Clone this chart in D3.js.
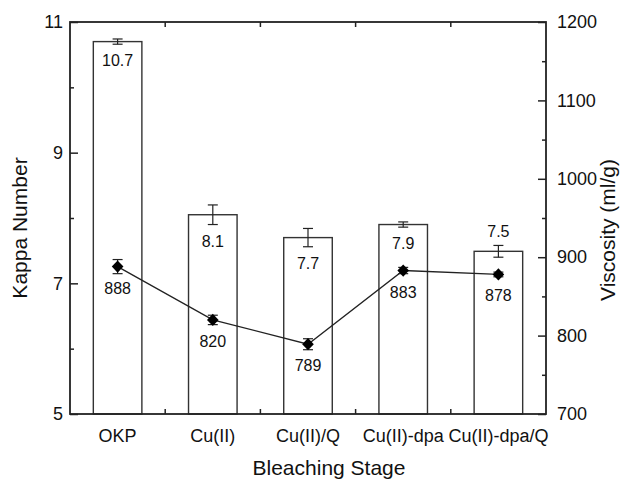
<!DOCTYPE html>
<html>
<head>
<meta charset="utf-8">
<script src="https://cdn.jsdelivr.net/npm/d3@7"></script>
<style>
  html, body { margin: 0; padding: 0; background: #fff; }
  svg { display: block; }
  text { font-family: "Liberation Sans", Arial, Helvetica, sans-serif; fill: #111; }
</style>
</head>
<body>
<svg id="chart" width="632" height="479"></svg>
<script>
// ---- data ----
const stages = ["OKP", "Cu(II)", "Cu(II)/Q", "Cu(II)-dpa", "Cu(II)-dpa/Q"];
const kappa = [10.7, 8.05, 7.7, 7.9, 7.49];
const kappaLabels = ["10.7", "8.1", "7.7", "7.9", "7.5"];
const kappaErr = [0.04, 0.15, 0.14, 0.04, 0.09];
const viscosity = [888, 820, 789, 883, 878];
const viscosityErr = [9, 6, 7, 4, 3];
const kappaTicks = [5, 7, 9, 11];
const kappaMinor = [6, 8, 10];
const viscTicks = [700, 800, 900, 1000, 1100, 1200];
const viscMinor = [750, 850, 950, 1050, 1150];

// ---- layout ----
const L = 70, R = 546, T = 22, B = 414;
const ink = "#222";
const svg = d3.select("#chart");
svg.append("rect").attr("width", 632).attr("height", 479).attr("fill", "#fff");

const x = d3.scaleBand().domain(stages).range([L, R]).padding(0);
const yK = d3.scaleLinear().domain([5, 11]).range([B, T]);
const yV = d3.scaleLinear().domain([700, 1200]).range([B, T]);
const barW = x.bandwidth() * 0.51;
const cx = d => x(d) + x.bandwidth() / 2;

// ---- bars ----
const g = svg.append("g");
stages.forEach((s, i) => {
  g.append("rect")
    .attr("x", cx(s) - barW / 2)
    .attr("y", yK(kappa[i]))
    .attr("width", barW)
    .attr("height", yK(5) - yK(kappa[i]))
    .attr("fill", "#fff")
    .attr("stroke", "#333")
    .attr("stroke-width", 1.4);
});

// error bars for bars
function errBar(xc, y1, y2, cap) {
  g.append("line").attr("x1", xc).attr("x2", xc).attr("y1", y1).attr("y2", y2)
    .attr("stroke", ink).attr("stroke-width", 1.2);
  [y1, y2].forEach(yy => g.append("line").attr("x1", xc - cap).attr("x2", xc + cap)
    .attr("y1", yy).attr("y2", yy).attr("stroke", ink).attr("stroke-width", 1.2));
}
stages.forEach((s, i) => {
  errBar(cx(s), yK(kappa[i] + kappaErr[i]), yK(kappa[i] - kappaErr[i]), 5);
});

// bar labels
stages.forEach((s, i) => {
  const above = i === stages.length - 1;
  const yy = above ? yK(kappa[i] + kappaErr[i]) - 8 : yK(kappa[i] - kappaErr[i]) + 22;
  g.append("text").attr("x", cx(s)).attr("y", yy).attr("text-anchor", "middle")
    .attr("font-size", 16).text(kappaLabels[i]);
});

// ---- viscosity line ----
const line = d3.line().x((d, i) => cx(stages[i])).y(d => yV(d));
g.append("path").datum(viscosity).attr("d", line).attr("fill", "none")
  .attr("stroke", ink).attr("stroke-width", 1.3);

stages.forEach((s, i) => {
  errBar(cx(s), yV(viscosity[i] + viscosityErr[i]), yV(viscosity[i] - viscosityErr[i]), 5);
});

const diamond = {
  draw(ctx, size) {
    const h = Math.sqrt(size) / 2;
    ctx.moveTo(0, -h); ctx.lineTo(h * 0.95, 0); ctx.lineTo(0, h); ctx.lineTo(-h * 0.95, 0); ctx.closePath();
  }
};
stages.forEach((s, i) => {
  g.append("path").attr("d", d3.symbol().type(diamond).size(150)())
    .attr("transform", `translate(${cx(s)},${yV(viscosity[i])})`)
    .attr("fill", "#000");
  g.append("text").attr("x", cx(s)).attr("y", yV(viscosity[i]) + 27)
    .attr("text-anchor", "middle").attr("font-size", 16).text(viscosity[i]);
});

// ---- axes ----
function styleAxis(sel) {
  sel.select(".domain").remove();
  sel.selectAll("line").attr("stroke", ink).attr("stroke-width", 1.5);
  sel.selectAll("text").attr("font-size", 18).attr("fill", "#111")
    .attr("font-family", '"Liberation Sans", Arial, sans-serif');
}
// left
svg.append("g").attr("transform", `translate(${L},0)`)
  .call(d3.axisLeft(yK).tickValues(kappaTicks).tickSize(-8).tickPadding(7).tickFormat(d3.format("d")))
  .call(styleAxis);
svg.append("g").attr("transform", `translate(${L},0)`)
  .call(d3.axisLeft(yK).tickValues(kappaMinor).tickSize(-4).tickFormat(""))
  .call(styleAxis);
// right
svg.append("g").attr("transform", `translate(${R},0)`)
  .call(d3.axisRight(yV).tickValues(viscTicks).tickSize(-8).tickPadding(11).tickFormat(d3.format("d")))
  .call(styleAxis);
svg.append("g").attr("transform", `translate(${R},0)`)
  .call(d3.axisRight(yV).tickValues(viscMinor).tickSize(-4).tickFormat(""))
  .call(styleAxis);
// bottom labels
svg.append("g").attr("transform", `translate(0,${B})`)
  .call(d3.axisBottom(x).tickSize(0).tickPadding(15))
  .call(styleAxis);
// boundary ticks (bottom & top)
const bounds = stages.slice(1).map(s => x(s));
bounds.forEach(bx => {
  svg.append("line").attr("x1", bx).attr("x2", bx).attr("y1", B).attr("y2", B - 5)
    .attr("stroke", ink).attr("stroke-width", 1.5);
  svg.append("line").attr("x1", bx).attr("x2", bx).attr("y1", T).attr("y2", T + 5)
    .attr("stroke", ink).attr("stroke-width", 1.5);
});
// frame
svg.append("rect").attr("x", L).attr("y", T).attr("width", R - L).attr("height", B - T)
  .attr("fill", "none").attr("stroke", ink).attr("stroke-width", 1.8);

// ---- titles ----
svg.append("text").attr("x", 329).attr("y", 475).attr("text-anchor", "middle")
  .attr("font-size", 21).text("Bleaching Stage");
svg.append("text").attr("transform", `translate(27,228) rotate(-90)`).attr("text-anchor", "middle")
  .attr("font-size", 21).text("Kappa Number");
svg.append("text").attr("transform", `translate(615,230) rotate(-90)`).attr("text-anchor", "middle")
  .attr("font-size", 21).text("Viscosity (ml/g)");
</script>
</body>
</html>
